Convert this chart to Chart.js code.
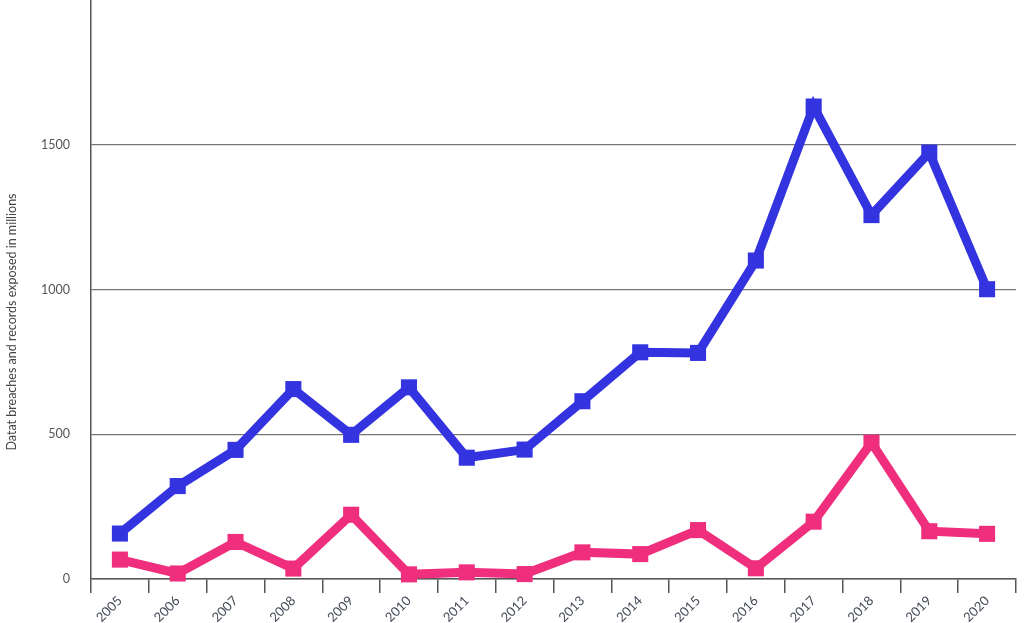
<!DOCTYPE html>
<html>
<head>
<meta charset="utf-8">
<script src="https://cdn.jsdelivr.net/npm/chart.js@4"></script>
<style>
  html, body { margin: 0; padding: 0; background: #fff; }
  #wrap { width: 1024px; height: 623px; }
</style>
</head>
<body>
<div id="wrap"><canvas id="chart"></canvas></div>
<script>
// data
var years = ['2005', '2006', '2007', '2008', '2009', '2010', '2011', '2012',
             '2013', '2014', '2015', '2016', '2017', '2018', '2019', '2020'];
var breaches = [157, 321, 446, 656, 498, 662, 419, 447, 614, 783, 781, 1100, 1632, 1257, 1473, 1001];
var records = [67, 19, 128, 36, 222, 16, 23, 17, 92, 86, 169, 37, 198, 471, 165, 156];
var yTicks = [0, 500, 1000, 1500];
var yTitle = 'Datat breaches and records exposed in millions';

// y title sits a bit below the middle of the plot in the original
var yTitlePlugin = {
    id: 'yTitle',
    afterDraw: function (chart) {
        var c = chart.ctx;
        c.save();
        c.translate(12, 322);
        c.rotate(-Math.PI / 2);
        c.font = '12.5px Lato';
        c.fillStyle = '#444';
        c.textAlign = 'center';
        c.textBaseline = 'middle';
        c.fillText(yTitle, 0, 0);
        c.restore();
    }
};

var ctx = document.getElementById('chart');
var myChart = new Chart(ctx, {
    type: 'line',
    data: {
        labels: years,
        datasets: [{
            label: 'Data breaches',
            data: breaches,
            borderColor: '#3333e0',
            backgroundColor: '#3333e0',
            borderWidth: 9,
            pointStyle: 'rect',
            pointRadius: 5,
            pointHoverRadius: 5,
            tension: 0,
            clip: false
        }, {
            label: 'Records exposed (millions)',
            data: records,
            borderColor: '#ef2f7d',
            backgroundColor: '#ef2f7d',
            borderWidth: 9,
            pointStyle: 'rect',
            pointRadius: 5,
            pointHoverRadius: 5,
            tension: 0,
            clip: false
        }]
    },
    options: {
        responsive: true,
        maintainAspectRatio: false,
        animation: false,
        layout: { autoPadding: false, padding: { top: 0, right: 8, bottom: 0, left: 0 } },
        plugins: {
            legend: { display: false },
            tooltip: { enabled: false }
        },
        scales: {
            x: {
                offset: true,
                grid: {
                    offset: true,
                    drawOnChartArea: false,
                    tickLength: 14,
                    color: '#555',
                    lineWidth: 1.5
                },
                border: { color: '#555', width: 1.5 },
                ticks: {
                    color: '#444a58',
                    font: { family: 'Lato', size: 13 },
                    minRotation: 45,
                    maxRotation: 45,
                    padding: 0
                },
                afterFit: function (scale) {
                    scale.height = 44;
                    scale.paddingTop = 0;
                    scale.paddingLeft = 0;
                    scale.paddingRight = 0;
                }
            },
            y: {
                min: 0,
                max: 2000,
                afterBuildTicks: function (scale) {
                    scale.ticks = yTicks.map(function (v) { return { value: v }; });
                },
                grid: {
                    color: '#777',
                    lineWidth: 1.2,
                    drawTicks: false
                },
                border: { color: '#555', width: 1.5 },
                ticks: {
                    color: '#555',
                    font: { family: 'Lato', size: 12.5 },
                    padding: 21,
                    callback: function (v) { return String(v); }
                },
                afterFit: function (scale) {
                    scale.width = 91;
                    scale.paddingTop = 0;
                    scale.paddingBottom = 0;
                }
            }
        }
    },
    plugins: [yTitlePlugin]
});
</script>
</body>
</html>
